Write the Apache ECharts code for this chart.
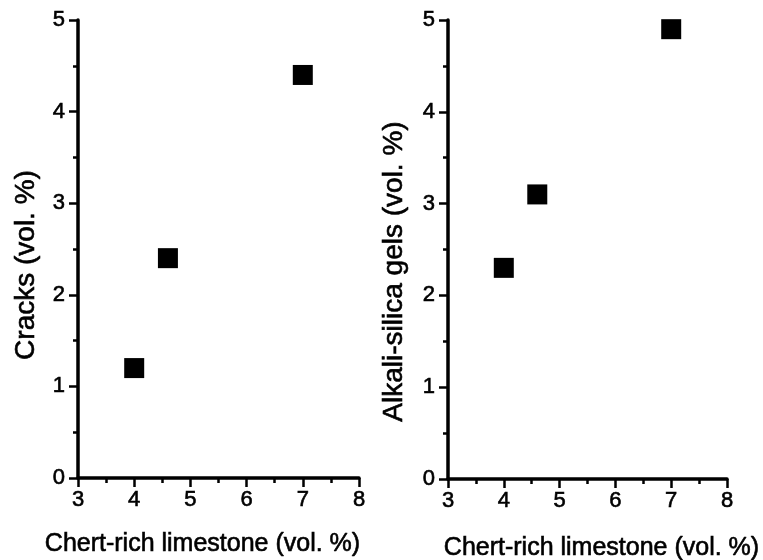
<!DOCTYPE html>
<html>
<head>
<meta charset="utf-8">
<script src="https://cdn.jsdelivr.net/npm/echarts@6/dist/echarts.min.js"></script>
<style>
  html, body { margin: 0; padding: 0; background: #fff; }
  #chart { width: 763px; height: 560px; }
</style>
</head>
<body>
<div id="chart"></div>
<script>
// values
const limestone = [4.0, 4.6, 7.0];
const cracks = [1.2, 2.4, 4.4];
const gels = [2.3, 3.1, 4.9];
const xTitle = "Chert-rich limestone (vol. %)";
const yTitles = ["Cracks (vol. %)", "Alkali-silica gels (vol. %)"];

const ink = "#000";
const font = "Liberation Sans";

// scanned print looks a bit heavier than plain text
const heavy = { textBorderColor: ink, textBorderWidth: 0.6 };

function xAxisFor(gridIndex, gap, pad) {
  return {
    gridIndex: gridIndex,
    type: "value",
    min: 3,
    max: 8,
    interval: 1,
    name: xTitle,
    nameLocation: "middle",
    nameGap: gap,
    nameTextStyle: Object.assign({ color: ink, fontFamily: font, fontSize: 25, padding: pad }, heavy),
    axisLine: { show: true, onZero: false, lineStyle: { color: ink, width: 3.5 } },
    axisTick: { show: true, inside: false, length: 9, lineStyle: { color: ink, width: 2.5 } },
    minorTick: { show: true, splitNumber: 2, length: 5, lineStyle: { color: ink, width: 2.5 } },
    axisLabel: Object.assign({ color: ink, fontFamily: font, fontSize: 22, margin: 11 }, heavy),
    splitLine: { show: false },
  };
}

function yAxisFor(gridIndex, name, gap, pad) {
  return {
    gridIndex: gridIndex,
    type: "value",
    min: 0,
    max: 5,
    interval: 1,
    name: name,
    nameLocation: "middle",
    nameGap: gap,
    nameTextStyle: Object.assign({ color: ink, fontFamily: font, fontSize: 28, padding: pad }, heavy),
    axisLine: { show: true, onZero: false, lineStyle: { color: ink, width: 3.5 } },
    axisTick: { show: true, inside: false, length: 9, lineStyle: { color: ink, width: 2.5 } },
    minorTick: { show: true, splitNumber: 2, length: 5, lineStyle: { color: ink, width: 2.5 } },
    axisLabel: Object.assign({ color: ink, fontFamily: font, fontSize: 22, margin: 13 }, heavy),
    splitLine: { show: false },
  };
}

const option = {
  backgroundColor: "#fff",
  animation: false,
  grid: [
    { left: 78, right: 404, top: 20, bottom: 82, outerBoundsMode: "none" },
    { left: 448, right: 36, top: 20, bottom: 81, outerBoundsMode: "none" },
  ],
  xAxis: [xAxisFor(0, 54, [0, 32, 0, 0]), xAxisFor(1, 57, [0, 0, 0, 28])],
  yAxis: [
    yAxisFor(0, yTitles[0], 38, [0, 32, 0, 0]),
    yAxisFor(1, yTitles[1], 40, [0, 44, 0, 0]),
  ],
  series: [
    {
      type: "scatter",
      xAxisIndex: 0,
      yAxisIndex: 0,
      symbol: "rect",
      symbolSize: 20,
      itemStyle: { color: ink, opacity: 1 },
      data: limestone.map((x, i) => [x, cracks[i]]),
    },
    {
      type: "scatter",
      xAxisIndex: 1,
      yAxisIndex: 1,
      symbol: "rect",
      symbolSize: 20,
      itemStyle: { color: ink, opacity: 1 },
      data: limestone.map((x, i) => [x, gels[i]]),
    },
  ],
};

const myChart = echarts.init(document.getElementById("chart"));
myChart.setOption(option);
</script>
</body>
</html>
